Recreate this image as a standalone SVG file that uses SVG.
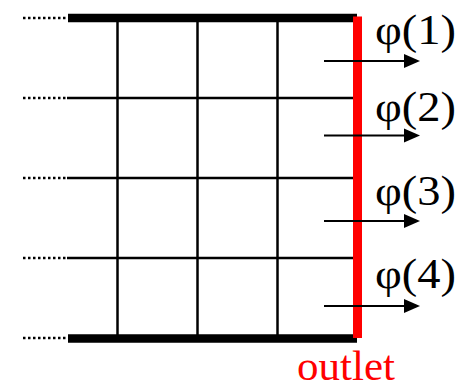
<svg xmlns="http://www.w3.org/2000/svg" width="462" height="391" viewBox="0 0 462 391">
<style>
.dot{stroke:#000;stroke-width:2.5;stroke-dasharray:2.5 2.5;fill:none}
.thick{stroke:#000;stroke-width:8.5;fill:none}
.thin{stroke:#000;stroke-width:2.5;fill:none}
.arr{stroke:#000;stroke-width:2;fill:none}
.lbl{font-family:"Liberation Serif","Times New Roman",serif;font-size:42px;fill:#000}
.out{font-family:"Liberation Serif","Times New Roman",serif;font-size:43px;fill:#ff0000}
</style>
<rect width="462" height="391" fill="#fff"/>
<g id="grid">
<line class="dot" x1="23" y1="18" x2="68" y2="18"/>
<line class="dot" x1="23" y1="98" x2="68" y2="98"/>
<line class="dot" x1="23" y1="178" x2="68" y2="178"/>
<line class="dot" x1="23" y1="258" x2="68" y2="258"/>
<line class="dot" x1="23" y1="338" x2="68" y2="338"/>
<line class="thin" x1="67" y1="98" x2="354" y2="98"/>
<line class="thin" x1="67" y1="178" x2="354" y2="178"/>
<line class="thin" x1="67" y1="258" x2="354" y2="258"/>
<line class="thin" x1="117.5" y1="18" x2="117.5" y2="338"/>
<line class="thin" x1="197.5" y1="18" x2="197.5" y2="338"/>
<line class="thin" x1="277.5" y1="18" x2="277.5" y2="338"/>
<line class="thick" x1="68" y1="18" x2="357" y2="18"/>
<line class="thick" x1="68" y1="338.5" x2="357" y2="338.5"/>
</g>
<g id="outlet">
<line x1="357.5" y1="16.5" x2="357.5" y2="338" stroke="#ff0000" stroke-width="9"/>
<text class="out" x="297" y="380">outlet</text>
</g>
<g id="connectors">
<line class="arr" x1="324" y1="61" x2="406" y2="61"/><polygon points="404,54 420,61 404,68"/>
<line class="arr" x1="324" y1="135.5" x2="406" y2="135.5"/><polygon points="404,128.5 420,135.5 404,142.5"/>
<line class="arr" x1="324" y1="221" x2="406" y2="221"/><polygon points="404,214 420,221 404,228"/>
<line class="arr" x1="324" y1="306" x2="406" y2="306"/><polygon points="404,299 420,306 404,313"/>
</g>
<g id="labels">
<text class="lbl" x="375" y="44" textLength="81" lengthAdjust="spacingAndGlyphs">φ(1)</text>
<text class="lbl" x="375" y="121" textLength="81" lengthAdjust="spacingAndGlyphs">φ(2)</text>
<text class="lbl" x="375" y="205" textLength="81" lengthAdjust="spacingAndGlyphs">φ(3)</text>
<text class="lbl" x="375" y="288" textLength="81" lengthAdjust="spacingAndGlyphs">φ(4)</text>
</g>
</svg>
